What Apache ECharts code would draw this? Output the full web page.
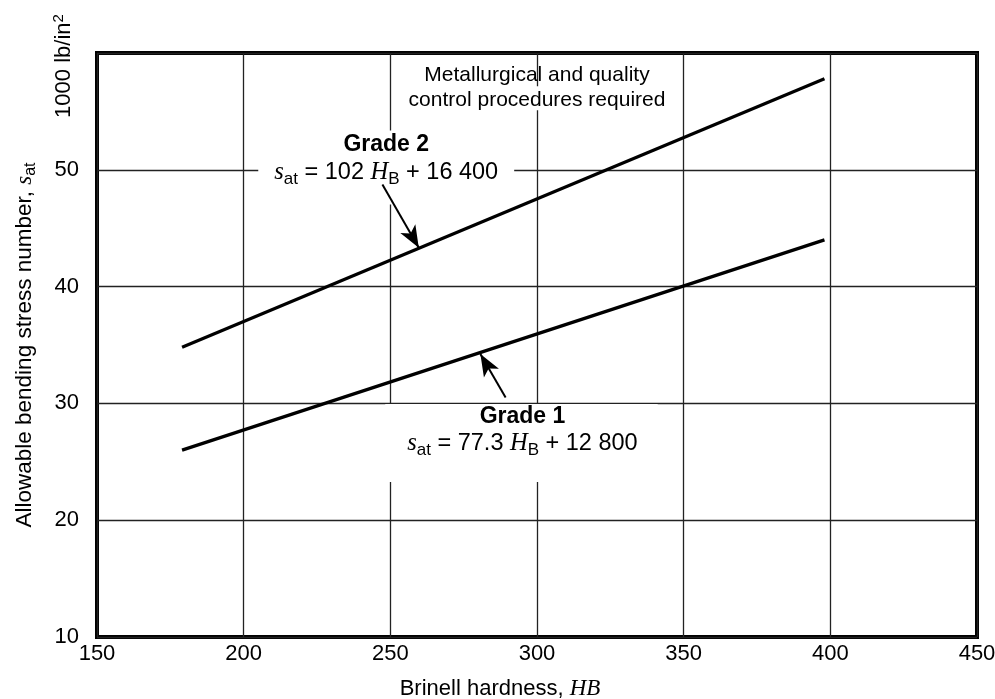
<!DOCTYPE html>
<html><head><meta charset="utf-8">
<script src="https://cdn.jsdelivr.net/npm/echarts@6/dist/echarts.min.js"></script>
<style>html,body{margin:0;padding:0;background:#fff}#c{width:995px;height:699px}</style>
</head><body><div id="c"></div>
<script>
// ---- data ----
const xRange = [150, 450];
const yRange = [10, 60];
const grade2X = [179, 398];
const grade2Y = [34.8, 57.8];
const grade1X = [179, 398];
const grade1Y = [26.0, 44.0];
// annotation anchors (data coordinates)
const noteTopAt = [300, 57.15];
const noteG2At = [248.6, 50.2];
const noteG1At = [294.7, 26.6];
const arrowG2From = [247.3, 48.75];
const arrowG2To = [259.7, 43.33];
const arrowG1From = [289.3, 30.5];
const arrowG1To = [280.7, 34.22];
const noteTopText = ['Metallurgical and quality', 'control procedures required'];
const g2Title = 'Grade 2';
const g2Eq = ['102', '16 400'];
const g1Title = 'Grade 1';
const g1Eq = ['77.3', '12 800'];

const SANS = '"Liberation Sans", Arial, Helvetica, sans-serif';
const SERIF = '"Liberation Serif", "Times New Roman", serif';

function rich(lh) {
  return {
    b: {fontFamily: SANS, fontWeight: 'bold', fontSize: 23, color: '#000', lineHeight: lh},
    n: {fontFamily: SANS, fontSize: 23.5, color: '#000', lineHeight: lh},
    s: {fontFamily: SERIF, fontStyle: 'italic', fontSize: 24.5, color: '#000', lineHeight: lh},
    h: {fontFamily: SERIF, fontStyle: 'italic', fontSize: 24.5, color: '#000', lineHeight: lh},
    sub: {fontFamily: SANS, fontSize: 17, color: '#000', lineHeight: lh, padding: [14, 0, 0, 0]}
  };
}
function eqText(e) {
  return '{s|s}{sub|at}{n| = ' + e[0] + ' }{h|H}{sub|B}{n| + ' + e[1] + '}';
}

const chart = echarts.init(document.getElementById('c'), null, {renderer: 'canvas'});
chart.setOption({
  animation: false,
  backgroundColor: '#fff',
  grid: {left: 97, right: 18, top: 53, bottom: 62, show: true, borderColor: '#000', borderWidth: 4,
    backgroundColor: 'transparent', outerBoundsMode: 'none', containLabel: false},
  xAxis: {
    type: 'value', min: xRange[0], max: xRange[1], interval: 50,
    axisLine: {show: false}, axisTick: {show: false},
    splitLine: {show: true, lineStyle: {color: '#222', width: 1.3}},
    axisLabel: {fontFamily: SANS, fontSize: 22, color: '#000', margin: 6},
    name: '{t|Brinell hardness, }{h|HB}', nameLocation: 'middle', nameGap: 40,
    nameTextStyle: {padding: [0, 74, 0, 0], rich: {
      t: {fontFamily: SANS, fontSize: 22, color: '#000'},
      h: {fontFamily: SERIF, fontStyle: 'italic', fontSize: 23, color: '#000'}
    }}
  },
  yAxis: {
    type: 'value', min: yRange[0], max: yRange[1], interval: 10,
    axisLine: {show: false}, axisTick: {show: false},
    splitLine: {show: true, lineStyle: {color: '#222', width: 1.3}},
    axisLabel: {fontFamily: SANS, fontSize: 22, color: '#000', margin: 18,
      formatter: v => (v === yRange[1] ? '' : String(v))},
    name: '{t|Allowable bending stress number, }{s|s}{sub|at}', nameLocation: 'middle', nameGap: 58, nameRotate: 90,
    nameTextStyle: {rich: {
      t: {fontFamily: SANS, fontSize: 22.5, color: '#000'},
      s: {fontFamily: SERIF, fontStyle: 'italic', fontSize: 23, color: '#000'},
      sub: {fontFamily: SANS, fontSize: 16, color: '#000', padding: [12, 0, 0, 0]}
    }}
  },
  graphic: [{
    type: 'text', x: 64, y: 66, rotation: Math.PI / 2,
    style: {text: '{a|1000 lb/in}{p|2}', align: 'center', verticalAlign: 'middle',
      rich: {a: {fontFamily: SANS, fontSize: 22, fill: '#000', color: '#000'},
             p: {fontFamily: SANS, fontSize: 15, fill: '#000', color: '#000', padding: [0, 0, 10, 0]}}}
  }],
  series: [
    {name: 'Grade 2', type: 'line', symbol: 'none', z: 3,
      lineStyle: {color: '#000', width: 3.2},
      data: grade2X.map((x, i) => [x, grade2Y[i]])},
    {name: 'Grade 1', type: 'line', symbol: 'none', z: 3,
      lineStyle: {color: '#000', width: 3.2},
      data: grade1X.map((x, i) => [x, grade1Y[i]])},
    {name: 'notes', type: 'scatter', symbolSize: 1, z: 5, silent: true,
      itemStyle: {color: 'rgba(0,0,0,0)', opacity: 1},
      data: [
        {value: noteTopAt, label: {show: true, position: 'inside', textBorderWidth: 0,
          formatter: '{n|' + noteTopText[0] + '}\n{w|' + noteTopText[1] + '}',
          rich: {n: {fontFamily: SANS, fontSize: 21, color: '#000', lineHeight: 24},
                 w: {fontFamily: SANS, fontSize: 21, color: '#000', lineHeight: 23, backgroundColor: '#fff', padding: [3, 4, 0, 4]}}}},
        {value: noteG2At, label: {show: true, position: 'inside', textBorderWidth: 0,
          formatter: '{b|' + g2Title + '}\n' + eqText(g2Eq),
          backgroundColor: '#fff', padding: [0, 16, 18, 16], rich: rich(28)}},
        {value: noteG1At, label: {show: true, position: 'inside', textBorderWidth: 0,
          formatter: '{b|' + g1Title + '}\n' + eqText(g1Eq),
          backgroundColor: '#fff', padding: [0, 20, 26, 22], rich: rich(26)}}
      ]},
    {name: 'arrows', type: 'line', data: [], z: 10, silent: true,
      markLine: {silent: true, z: 20, symbol: ['none', 'arrow'], symbolSize: [13, 22],
        label: {show: false},
        lineStyle: {color: '#000', width: 2, type: 'solid'},
        itemStyle: {color: '#000'},
        data: [
          [{coord: arrowG2From}, {coord: arrowG2To}],
          [{coord: arrowG1From}, {coord: arrowG1To}]
        ]}}
  ]
});
</script>
</body></html>
